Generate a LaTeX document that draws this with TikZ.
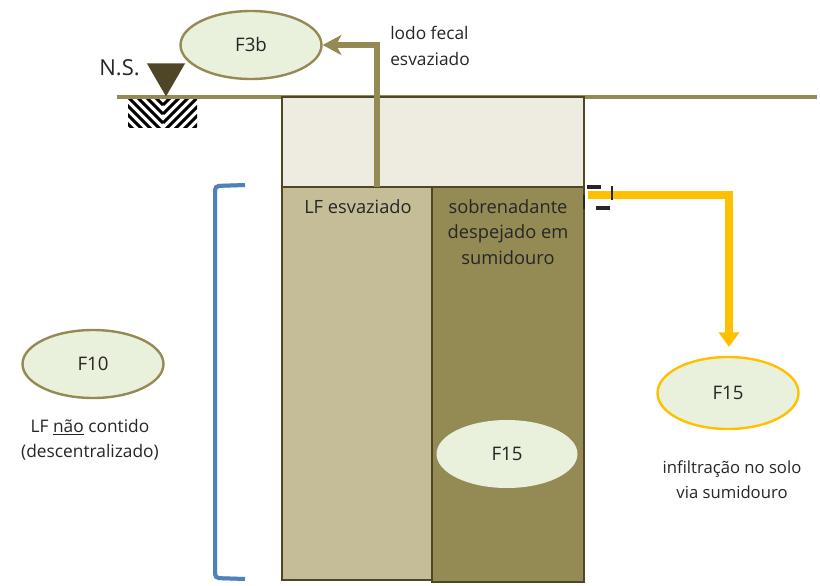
\documentclass[tikz,border=0pt]{standalone}
\usepackage{fontspec}
\setmainfont{Open Sans}
\usetikzlibrary{shapes.geometric,arrows.meta}
\definecolor{olivedark}{HTML}{4F4628}
\definecolor{olivemid}{HTML}{948A54}
\definecolor{olivelight}{HTML}{C4BD97}
\definecolor{cream}{HTML}{EEECE1}
\definecolor{palegreen}{HTML}{E9F0DC}
\definecolor{amber}{HTML}{FFC000}
\definecolor{bracketblue}{HTML}{4F81BD}
\begin{document}
\begin{tikzpicture}[
        x=0.75pt, y=-0.75pt,
        txt/.style={font=\fontsize{13pt}{19pt}\selectfont, text=black!85, align=center, inner sep=0pt},
        txtbig/.style={txt, font=\fontsize{13.7pt}{19pt}\selectfont},
        flow/.style={ellipse, draw=olivemid, line width=1.8pt, fill=palegreen, minimum width=141*0.75pt, minimum height=68*0.75pt, inner sep=0pt, font=\fontsize{14pt}{16pt}\selectfont, text=black!85},
        pit/.style={rectangle, draw=olivedark, line width=2.2pt, inner sep=0pt},
        pipe/.style={draw=olivemid, line width=4pt},
        seep/.style={draw=amber, line width=5.5pt},
        tick/.style={draw=black!85, line width=2.4pt}
    ]
    \useasboundingbox (0,0) rectangle (820,585);
    \fill[white] (0,0) rectangle (820,585);

    % ground line and level symbol
    \coordinate (gndL) at (117,97);
    \coordinate (gndR) at (817,97);
    \draw[olivemid, line width=3.4pt] (gndL) -- (gndR);
    \begin{scope}
        \clip (128,99) rectangle (197,127);
        \foreach \i in {-36,-27,...,36} {
            \draw[black, line width=2.2pt] (128+\i,97) -- (163,97+35-\i);
            \draw[black, line width=2.2pt] (198-\i,97) -- (163,97+35-\i);
        }
    \end{scope}
    \node[isosceles triangle, isosceles triangle apex angle=60, shape border rotate=-90, fill=olivedark, minimum height=33*0.75pt, inner sep=0pt, anchor=apex] (level) at (166,97) {};
    \node[txt, anchor=east, font=\fontsize{16.5pt}{19pt}\selectfont] (ns) at (140,68) {N.S.};

    % pit
    \node[pit, fill=cream, minimum width=302*0.75pt, minimum height=90*0.75pt] (upper) at (433,142) {};
    \node[pit, fill=olivelight, minimum width=150*0.75pt, minimum height=393*0.75pt] (sludge) at (357,383.5) {};
    \node[pit, fill=olivemid, minimum width=152*0.75pt, minimum height=395*0.75pt] (super) at (508,384.5) {};
    \node[txtbig] (sludgetxt) at (358,207) {LF esvaziado};
    \node[txtbig] (supertxt) at (508,232) {sobrenadante\\despejado em\\sumidouro};

    % flows
    \node[flow] (f3b) at (251,45) {F3b};
    \node[flow] (f10) at (93,364) {F10};
    \node[flow, draw=amber, minimum height=72*0.75pt] (f15out) at (728,393) {F15};
    \node[flow, draw=none] (f15in) at (507,454) {F15};

    % connectors
    \coordinate (pipeS) at (377,187);
    \draw[pipe, -{Triangle[width=15pt, length=14pt, inset=4pt]}] (pipeS) |- (f3b.east);
    \coordinate (seepS) at (588,195);
    \coordinate (seepE) at (729,347);
    \draw[seep, -{Triangle[width=15pt, length=11pt]}] (seepS) -| (seepE);

    % broken marks at the outlet
    \coordinate (m1) at (587,187);
    \coordinate (m2) at (601,187);
    \coordinate (m3) at (596,208);
    \coordinate (m4) at (610,208);
    \coordinate (m5) at (612,186);
    \coordinate (m6) at (612,200);
    \coordinate (m7) at (584,195);
    \coordinate (m8) at (584,209);
    \draw[tick] (m1) -- (m2);
    \draw[tick] (m3) -- (m4);
    \draw[tick, line width=1.8pt] (m5) -- (m6);
    \draw[tick, line width=1.5pt] (m7) -- (m8);

    % bracket
    \coordinate (brTop) at (245,185);
    \coordinate (brA) at (215,186);
    \coordinate (brB) at (215,578);
    \coordinate (brBot) at (245,579);
    \draw[black!22, line width=3pt, rounded corners=3pt, yshift=-1.5pt] (brTop) -- (brA) -- (brB) -- (brBot);
    \draw[bracketblue, line width=3pt, rounded corners=3pt] (brTop) -- (brA) -- (brB) -- (brBot);

    % labels
    \node[txt, align=left, anchor=west] (lodo) at (390,46) {lodo fecal\\esvaziado};
    \node[txt] (f10txt) at (90,440) {LF \underline{não} contido\\(descentralizado)};
    \node[txt, font=\fontsize{12.5pt}{19pt}\selectfont] (f15txt) at (732,480) {infiltração no solo\\via sumidouro};
\end{tikzpicture}
\end{document}
